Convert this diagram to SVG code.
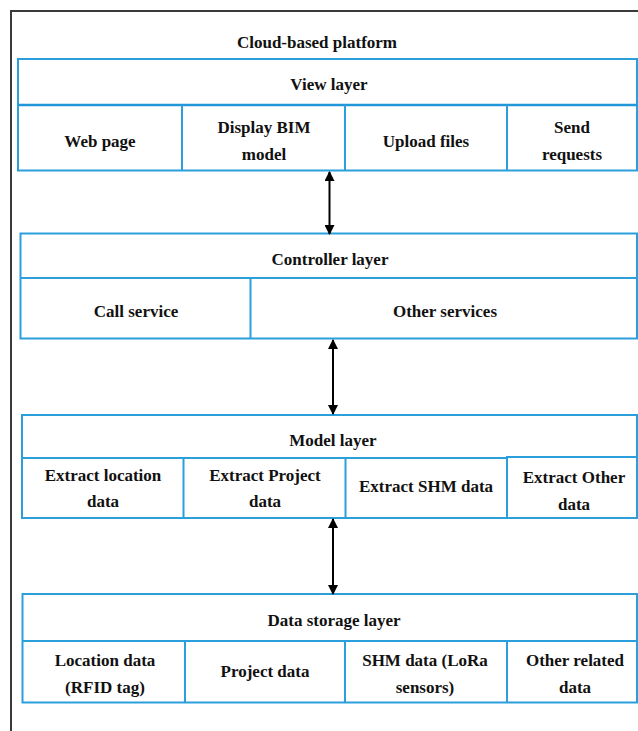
<svg xmlns="http://www.w3.org/2000/svg" width="638" height="731" viewBox="0 0 638 731">
<defs>
<marker id="ah" viewBox="0 0 10 10" refX="9" refY="5" markerWidth="10" markerHeight="10" markerUnits="userSpaceOnUse" orient="auto-start-reverse">
<path d="M0,0 L10,5 L0,10 z" fill="#000"/>
</marker>
</defs>
<style>
.frame{fill:none;stroke:#3a3a3a;stroke-width:2}
.box{fill:#fff;stroke:#2a9fdc;stroke-width:2}
.sep{stroke:#2196d8;stroke-width:2.5;fill:none}
.div{stroke:#2a9fdc;stroke-width:2;fill:none}
text{font-family:"Liberation Serif","Times New Roman",serif;font-weight:bold;font-size:17px;fill:#111;text-anchor:middle}
.conn{stroke:#000;stroke-width:2;fill:none;marker-start:url(#ah);marker-end:url(#ah)}
</style>
<rect x="0" y="0" width="638" height="731" fill="#fff"/>
<path class="frame" d="M11,740 L11,11 L650,11"/>
<text id="platform-title" x="317" y="48">Cloud-based platform</text>

<g id="view-layer">
<rect class="box" x="18" y="59" width="619" height="111.5"/>
<line class="sep" x1="18" y1="105" x2="637" y2="105"/>
<line class="div" x1="182" y1="105" x2="182" y2="170.5"/>
<line class="div" x1="345" y1="105" x2="345" y2="170.5"/>
<line class="div" x1="507" y1="105" x2="507" y2="170.5"/>
<text x="329" y="90">View layer</text>
<text x="100" y="147">Web page</text>
<text x="264" y="133">Display BIM</text>
<text x="264" y="160">model</text>
<text x="426" y="147">Upload files</text>
<text x="572" y="133">Send</text>
<text x="572" y="160">requests</text>
</g>

<g id="controller-layer">
<rect class="box" x="20.5" y="233.5" width="616.5" height="105"/>
<line class="div" x1="20.5" y1="278" x2="637" y2="278"/>
<line class="div" x1="250.5" y1="278" x2="250.5" y2="338.5"/>
<text x="330" y="265">Controller layer</text>
<text x="136" y="317">Call service</text>
<text x="445" y="317">Other services</text>
</g>

<g id="model-layer">
<rect class="box" x="22" y="415" width="615" height="103"/>
<line class="div" x1="22" y1="458" x2="637" y2="458"/>
<line class="div" x1="183.5" y1="458" x2="183.5" y2="518"/>
<line class="div" x1="345.5" y1="458" x2="345.5" y2="518"/>
<rect class="box" x="507" y="457" width="130" height="61"/>
<text x="333" y="446">Model layer</text>
<text x="103" y="481">Extract location</text>
<text x="103" y="507">data</text>
<text x="265" y="481">Extract Project</text>
<text x="265" y="507">data</text>
<text x="426" y="492">Extract SHM data</text>
<text x="574" y="483">Extract Other</text>
<text x="574" y="510">data</text>
</g>

<g id="data-storage-layer">
<rect class="box" x="22.5" y="594" width="614.5" height="108.5"/>
<line class="div" x1="22.5" y1="641" x2="637" y2="641"/>
<line class="div" x1="185" y1="641" x2="185" y2="702.5"/>
<line class="div" x1="345" y1="641" x2="345" y2="702.5"/>
<line class="div" x1="507" y1="641" x2="507" y2="702.5"/>
<text x="334" y="626">Data storage layer</text>
<text x="105" y="666">Location data</text>
<text x="105" y="693">(RFID tag)</text>
<text x="265" y="677">Project data</text>
<text x="425" y="666">SHM data (LoRa</text>
<text x="425" y="693">sensors)</text>
<text x="575" y="666">Other related</text>
<text x="575" y="693">data</text>
</g>

<g id="connectors">
<line class="conn" x1="329.5" y1="172" x2="329.5" y2="234"/>
<line class="conn" x1="333" y1="340" x2="333" y2="414"/>
<line class="conn" x1="333" y1="519" x2="333" y2="594"/>
</g>
</svg>
